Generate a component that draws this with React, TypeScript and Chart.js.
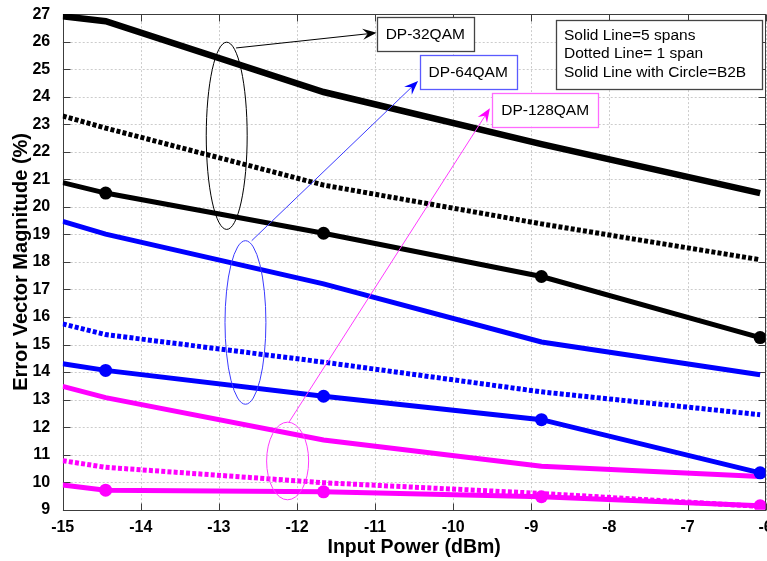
import React, { useEffect, useRef } from 'react';
import { Chart, registerables } from 'chart.js';

Chart.register(...registerables);

// ---- data ----
const inputPower = [-15, -14.45, -11.66, -8.87, -6.07];
const evm32Span5 = [26.92, 26.74, 24.17, 22.28, 20.5];
const evm32Span1 = [23.3, 22.86, 20.79, 19.38, 18.08];
const evm32B2B = [20.88, 20.5, 19.04, 17.47, 15.25];
const evm64Span5 = [19.47, 19.01, 17.2, 15.09, 13.9];
const evm64Span1 = [15.75, 15.36, 14.36, 13.28, 12.45];
const evm64B2B = [14.3, 14.06, 13.12, 12.27, 10.34];
const evm128Span5 = [13.48, 13.07, 11.53, 10.58, 10.21];
const evm128Span1 = [10.78, 10.54, 9.98, 9.59, 9.12];
const evm128B2B = [9.9, 9.71, 9.65, 9.47, 9.14];

const xTicks = [-15, -14, -13, -12, -11, -10, -9, -8, -7, -6];
const yTicks = [9, 10, 11, 12, 13, 14, 15, 16, 17, 18, 19, 20, 21, 22, 23, 24, 25, 26, 27];

// ---- annotations (data coordinates) ----
const groupLabels = ['DP-32QAM', 'DP-64QAM', 'DP-128QAM'];
const groupColors = ['#000000', '#0000ff', '#ff00ff'];
const ellipseCenters = [[-12.9, 22.58], [-12.66, 15.8], [-12.12, 10.77]];
const ellipseRadii = [[0.262, 3.4], [0.262, 2.97], [0.269, 1.41]];
const arrowStarts = [[-12.78, 25.77], [-12.58, 18.77], [-12.1, 12.19]];
const arrowTips = [[-10.98, 26.32], [-10.45, 24.57], [-9.53, 23.58]];
const labelAnchors = [[-10.98, 26.27], [-10.43, 24.89], [-9.5, 23.53]];
const lineColors = ['#000000', '#3a3aff', '#ff3aff'];
const boxBorders = ['#444444', '#5a5aff', '#ff6aff'];
const noteLines = ['Solid Line=5 spans', 'Dotted Line= 1 span', 'Solid Line with Circle=B2B'];
const noteAnchor = [-8.684, 26.77];

const FONT = "'Liberation Sans', Arial, sans-serif";

const pts = (ys: number[]) => inputPower.map((x, i) => ({ x, y: ys[i] }));
const markerRadii = [0, 6.5, 6.5, 6.5, 6.5];

function solid(label: string, ys: number[], color: string, width: number) {
  return { label, data: pts(ys), borderColor: color, backgroundColor: color, borderWidth: width, pointRadius: 0, tension: 0 };
}
function dotted(label: string, ys: number[], color: string) {
  return { label, data: pts(ys), borderColor: color, backgroundColor: color, borderWidth: 5, borderDash: [4, 2.2], borderCapStyle: 'butt', pointRadius: 0, tension: 0 };
}
function b2b(label: string, ys: number[], color: string) {
  return { label, data: pts(ys), borderColor: color, backgroundColor: color, borderWidth: 5, pointRadius: markerRadii, pointBackgroundColor: color, pointBorderWidth: 0, tension: 0 };
}

const framePlugin = {
  id: 'matlabFrame',
  beforeDatasetsDraw(chart: any) {
    const { ctx, chartArea: a, scales } = chart;
    const xs = scales.x, ys = scales.y;
    ctx.save();
    ctx.strokeStyle = '#cccccc';
    ctx.lineWidth = 1;
    ctx.setLineDash([2, 2]);
    xTicks.forEach((t) => {
      const px = Math.round(xs.getPixelForValue(t)) + 0.5;
      ctx.beginPath(); ctx.moveTo(px, a.top); ctx.lineTo(px, a.bottom); ctx.stroke();
    });
    yTicks.forEach((t) => {
      const py = Math.round(ys.getPixelForValue(t)) + 0.5;
      ctx.beginPath(); ctx.moveTo(a.left, py); ctx.lineTo(a.right, py); ctx.stroke();
    });
    ctx.setLineDash([]);
    ctx.strokeStyle = '#3c3c3c';
    const L = Math.round(a.left) + 0.5, R = Math.round(a.right) - 0.5, T = Math.round(a.top) + 0.5, B = Math.round(a.bottom) + 0.5;
    ctx.strokeRect(L, T, R - L, B - T);
    const tl = 7;
    xTicks.forEach((t) => {
      const px = Math.round(xs.getPixelForValue(t)) + 0.5;
      ctx.beginPath(); ctx.moveTo(px, B); ctx.lineTo(px, B - tl); ctx.moveTo(px, T); ctx.lineTo(px, T + tl); ctx.stroke();
    });
    yTicks.forEach((t) => {
      const py = Math.round(ys.getPixelForValue(t)) + 0.5;
      ctx.beginPath(); ctx.moveTo(L, py); ctx.lineTo(L + tl, py); ctx.moveTo(R, py); ctx.lineTo(R - tl, py); ctx.stroke();
    });
    ctx.restore();
  },
};

function arrowHead(ctx: any, x0: number, y0: number, x1: number, y1: number, color: string) {
  const ang = Math.atan2(y1 - y0, x1 - x0);
  const L = 14, W = 5.5, N = 9;
  const c = Math.cos(ang), s = Math.sin(ang);
  ctx.fillStyle = color;
  ctx.beginPath();
  ctx.moveTo(x1, y1);
  ctx.lineTo(x1 - L * c - W * s, y1 - L * s + W * c);
  ctx.lineTo(x1 - N * c, y1 - N * s);
  ctx.lineTo(x1 - L * c + W * s, y1 - L * s - W * c);
  ctx.closePath();
  ctx.fill();
}

const annotationPlugin = {
  id: 'annotations',
  afterDatasetsDraw(chart: any) {
    const { ctx, scales } = chart;
    const xs = scales.x, ys = scales.y;
    const X = (v: number) => xs.getPixelForValue(v);
    const Y = (v: number) => ys.getPixelForValue(v);
    ctx.save();
    ctx.setLineDash([]);
    ctx.lineWidth = 1;
    for (let i = 0; i < 3; i++) {
      const cx = X(ellipseCenters[i][0]), cy = Y(ellipseCenters[i][1]);
      const rx = Math.abs(X(ellipseCenters[i][0] + ellipseRadii[i][0]) - cx);
      const ry = Math.abs(Y(ellipseCenters[i][1] + ellipseRadii[i][1]) - cy);
      ctx.strokeStyle = lineColors[i];
      ctx.beginPath(); ctx.ellipse(cx, cy, rx, ry, 0, 0, Math.PI * 2); ctx.stroke();
      const x0 = X(arrowStarts[i][0]), y0 = Y(arrowStarts[i][1]);
      const x1 = X(arrowTips[i][0]), y1 = Y(arrowTips[i][1]);
      const ang = Math.atan2(y1 - y0, x1 - x0);
      ctx.beginPath(); ctx.moveTo(x0, y0); ctx.lineTo(x1 - 8 * Math.cos(ang), y1 - 8 * Math.sin(ang)); ctx.stroke();
      arrowHead(ctx, x0, y0, x1, y1, groupColors[i]);
    }
    ctx.font = `15.5px ${FONT}`;
    ctx.textBaseline = 'middle';
    ctx.textAlign = 'left';
    for (let i = 0; i < 3; i++) {
      const lx = X(labelAnchors[i][0]), ly = Y(labelAnchors[i][1]);
      const w = ctx.measureText(groupLabels[i]).width + 18;
      const h = 34;
      ctx.fillStyle = '#ffffff';
      ctx.fillRect(lx, ly - h / 2, w, h);
      ctx.strokeStyle = boxBorders[i];
      ctx.lineWidth = 1.3;
      ctx.strokeRect(Math.round(lx) + 0.5, Math.round(ly - h / 2) + 0.5, Math.round(w), h);
      ctx.fillStyle = '#000000';
      ctx.fillText(groupLabels[i], lx + 9, ly + 1);
    }
    // note box
    const nx = X(noteAnchor[0]), ny = Y(noteAnchor[1]);
    let maxW = 0;
    noteLines.forEach((t) => { maxW = Math.max(maxW, ctx.measureText(t).width); });
    const bw = maxW + 24, bh = 69;
    ctx.fillStyle = '#ffffff';
    ctx.fillRect(nx, ny, bw, bh);
    ctx.strokeStyle = '#444444';
    ctx.lineWidth = 1.3;
    ctx.strokeRect(Math.round(nx) + 0.5, Math.round(ny) + 0.5, Math.round(bw), bh);
    ctx.fillStyle = '#000000';
    noteLines.forEach((t, k) => ctx.fillText(t, nx + 8, ny + 15 + k * 18.7));
    ctx.restore();
  },
};

export default function App() {
  const ref = useRef<HTMLCanvasElement | null>(null);
  useEffect(() => {
    if (!ref.current) return;
    const chart = new Chart(ref.current, {
      type: 'line',
      data: {
        datasets: [
          solid('DP-32QAM 5 spans', evm32Span5, '#000000', 6.5),
          dotted('DP-32QAM 1 span', evm32Span1, '#000000'),
          b2b('DP-32QAM B2B', evm32B2B, '#000000'),
          solid('DP-64QAM 5 spans', evm64Span5, '#0000ff', 5),
          dotted('DP-64QAM 1 span', evm64Span1, '#0000ff'),
          b2b('DP-64QAM B2B', evm64B2B, '#0000ff'),
          solid('DP-128QAM 5 spans', evm128Span5, '#ff00ff', 5),
          dotted('DP-128QAM 1 span', evm128Span1, '#ff00ff'),
          b2b('DP-128QAM B2B', evm128B2B, '#ff00ff'),
        ] as any,
      },
      options: {
        responsive: false,
        animation: false,
        devicePixelRatio: 1,
        layout: { padding: { left: 0, top: 13, right: 34.4, bottom: 0 } },
        plugins: { legend: { display: false }, tooltip: { enabled: false } },
        scales: {
          x: {
            type: 'linear',
            min: xTicks[0],
            max: xTicks[xTicks.length - 1],
            afterBuildTicks: (s: any) => { s.ticks = xTicks.map((v) => ({ value: v })); },
            afterFit: (s: any) => { s.height = 51.3; },
            grid: { display: false },
            border: { display: false },
            ticks: { color: '#000', font: { family: FONT, size: 16, weight: 'bold' }, padding: 0, maxRotation: 0, autoSkip: false },
            title: { display: true, text: 'Input Power (dBm)', color: '#000', font: { family: FONT, size: 19.5, weight: 'bold' }, padding: { top: 0, bottom: 2 } },
          },
          y: {
            type: 'linear',
            min: yTicks[0],
            max: yTicks[yTicks.length - 1],
            afterBuildTicks: (s: any) => { s.ticks = yTicks.map((v) => ({ value: v })); },
            afterFit: (s: any) => { s.width = 62.7; },
            grid: { display: false },
            border: { display: false },
            ticks: { color: '#000', font: { family: FONT, size: 16, weight: 'bold' }, padding: 4.5, autoSkip: false },
            title: { display: true, text: 'Error Vector Magnitude (%)', color: '#000', font: { family: FONT, size: 20, weight: 'bold' }, padding: { top: 9, bottom: 0 } },
          },
        },
      } as any,
      plugins: [framePlugin, annotationPlugin],
    });
    return () => chart.destroy();
  }, []);
  return (
    <div style={{ position: 'fixed', left: 0, top: 0, width: 767, height: 561, overflow: 'hidden', background: '#fff' }}>
      <canvas ref={ref} width={800} height={561} style={{ display: 'block' }} />
    </div>
  );
}
